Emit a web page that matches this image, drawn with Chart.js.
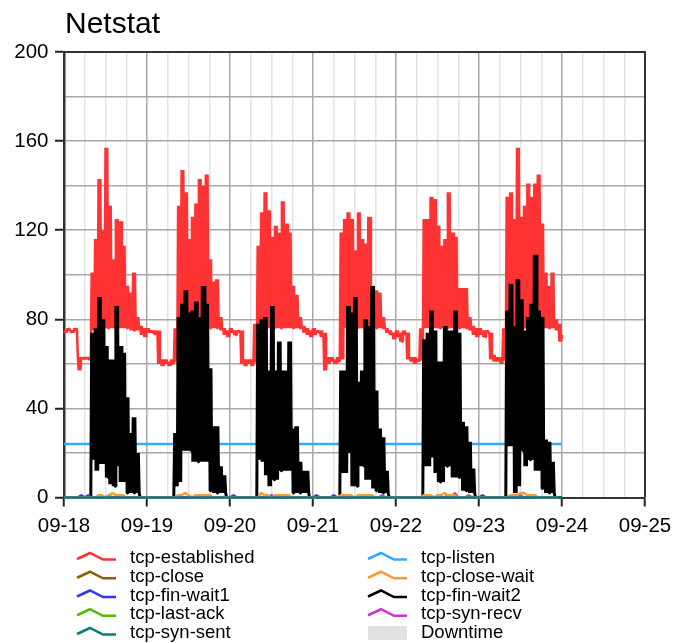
<!DOCTYPE html>
<html>
<head>
<meta charset="utf-8">
<title>Netstat</title>
<script src="https://cdn.jsdelivr.net/npm/chart.js@4.4.1/dist/chart.umd.min.js"></script>
<style>
  body { margin: 0; background: #fff; }
  canvas { display: block; }
</style>
</head>
<body>
<canvas id="netstat" width="675" height="643"></canvas>
<script>
// x axis is in hours from 09-18 00:00, one label per day
const xLabels = ['09-18', '09-19', '09-20', '09-21', '09-22', '09-23', '09-24', '09-25'];
const yLabels = [0, 40, 80, 120, 160, 200];

// tcp-established, hourly high / low readings (the series swings between them)
const estHi = [
    75, 76, 75, 76, 63, 63, 63, 63, 101, 116, 143, 120, 157, 131, 107, 125, 124, 113, 95, 92, 101, 81, 77, 76,
    76, 75, 75, 75, 62, 62, 61, 62, 76, 131, 147, 137, 116, 126, 132, 143, 140, 145, 107, 97, 98, 81, 76, 75,
    76, 75, 75, 75, 62, 62, 62, 78, 113, 128, 137, 129, 117, 122, 119, 133, 123, 119, 95, 91, 81, 77, 76, 75,
    76, 75, 75, 74, 63, 63, 62, 63, 119, 125, 128, 125, 111, 128, 116, 114, 126, 95, 93, 92, 81, 76, 75, 74,
    75, 74, 75, 74, 63, 63, 62, 76, 125, 125, 135, 134, 122, 113, 116, 137, 119, 117, 94, 94, 94, 81, 77, 76,
    76, 75, 75, 74, 64, 63, 63, 76, 135, 137, 125, 157, 126, 131, 141, 135, 141, 145, 123, 101, 95, 101, 80, 78
];
const estLo = [
    74, 75, 74, 75, 57, 62, 62, 62, 75, 76, 76, 76, 76, 76, 76, 76, 76, 76, 76, 75, 75, 75, 73, 72,
    74, 74, 73, 60, 59, 60, 59, 60, 61, 76, 76, 76, 76, 76, 76, 76, 76, 76, 76, 76, 76, 75, 73, 72,
    74, 73, 74, 60, 59, 60, 59, 61, 76, 76, 76, 76, 76, 76, 76, 76, 76, 76, 76, 76, 76, 74, 73, 72,
    73, 74, 72, 57, 60, 61, 60, 61, 62, 76, 76, 76, 76, 76, 76, 76, 76, 76, 76, 76, 76, 74, 73, 71,
    72, 70, 73, 62, 61, 60, 61, 62, 76, 76, 76, 76, 76, 76, 76, 76, 76, 76, 76, 76, 76, 75, 73, 72,
    73, 72, 74, 62, 61, 61, 60, 62, 76, 76, 76, 76, 76, 76, 76, 76, 76, 76, 76, 76, 76, 76, 75, 70
];
const estEnd = 73;

// tcp-fin-wait2, hourly high / low readings
const fw2Hi = [
    0, 0, 0, 0, 0, 0, 0, 0, 74, 76, 90, 80, 68, 62, 62, 86, 68, 65, 45, 29, 36, 20, 0, 0,
    0, 0, 0, 0, 0, 0, 0, 0, 29, 81, 87, 93, 83, 84, 88, 81, 95, 87, 58, 32, 32, 14, 10, 0,
    0, 0, 0, 0, 0, 0, 0, 0, 78, 80, 81, 57, 86, 57, 70, 57, 57, 70, 31, 32, 16, 12, 12, 0,
    0, 0, 0, 0, 0, 0, 0, 0, 57, 57, 86, 83, 90, 52, 57, 80, 77, 95, 48, 31, 27, 12, 0, 0,
    0, 0, 0, 0, 0, 0, 0, 0, 71, 74, 84, 75, 61, 61, 77, 75, 75, 84, 74, 34, 32, 25, 13, 0,
    0, 0, 0, 0, 0, 0, 0, 0, 84, 96, 77, 98, 89, 75, 81, 87, 109, 84, 81, 26, 25, 16, 0, 0
];
const fw2Lo = [
    0, 0, 0, 0, 0, 0, 0, 0, 17, 12, 15, 15, 9, 6, 5, 14, 7, 7, 2, 2, 2, 2, 0, 0,
    0, 0, 0, 0, 0, 0, 0, 0, 5, 7, 21, 21, 21, 16, 16, 16, 16, 16, 3, 2, 2, 2, 2, 0,
    0, 0, 0, 0, 0, 0, 0, 0, 17, 16, 10, 5, 8, 8, 12, 12, 12, 12, 2, 2, 2, 2, 2, 0,
    0, 0, 0, 0, 0, 0, 0, 0, 11, 11, 20, 5, 5, 14, 14, 8, 8, 4, 3, 2, 2, 2, 0, 0,
    0, 0, 0, 0, 0, 0, 0, 0, 14, 14, 18, 11, 7, 7, 14, 14, 9, 9, 9, 3, 3, 2, 2, 0,
    0, 0, 0, 0, 0, 0, 0, 0, 23, 23, 2, 5, 21, 14, 17, 17, 12, 12, 4, 2, 2, 2, 0, 0
];

// small hourly series near zero
const closeWait = [
    0, 0, 0, 0, 0, 0, 0, 0, 0, 0, 1, 1, 0, 1, 2, 1, 1, 1, 0, 0, 0, 0, 0, 0,
    0, 0, 0, 0, 0, 0, 0, 0, 0, 1, 1, 2, 1, 0, 1, 1, 1, 1, 1, 0, 0, 0, 0, 0,
    0, 0, 0, 0, 0, 0, 0, 0, 0, 2, 1, 1, 0, 1, 1, 1, 1, 1, 0, 0, 0, 0, 0, 0,
    0, 0, 0, 0, 0, 0, 0, 0, 1, 1, 1, 1, 0, 1, 1, 1, 1, 1, 0, 0, 0, 0, 0, 0,
    0, 0, 0, 0, 0, 0, 0, 0, 1, 1, 1, 0, 1, 1, 2, 1, 1, 1, 0, 0, 0, 0, 0, 0,
    0, 0, 0, 0, 0, 0, 0, 0, 0, 1, 1, 1, 2, 2, 1, 1, 1, 0, 0, 0, 0, 0, 0, 0
];
const finWait1 = [
    0, 0, 0, 0, 0, 1, 0, 1, 0, 0, 0, 0, 0, 0, 0, 0, 0, 0, 0, 0, 0, 0, 0, 0,
    0, 0, 0, 0, 0, 0, 0, 0, 0, 0, 0, 0, 0, 0, 0, 0, 0, 0, 1, 0, 0, 0, 0, 0,
    0, 1, 0, 0, 0, 0, 0, 0, 0, 0, 0, 0, 1, 0, 1, 0, 0, 0, 0, 0, 0, 0, 0, 0,
    0, 1, 0, 0, 0, 0, 1, 0, 0, 0, 0, 0, 0, 0, 0, 0, 1, 0, 0, 0, 0, 0, 0, 0,
    0, 0, 0, 0, 0, 0, 0, 0, 0, 0, 0, 0, 0, 0, 0, 1, 0, 0, 0, 0, 0, 0, 0, 0,
    0, 1, 0, 0, 0, 0, 0, 0, 0, 0, 0, 0, 0, 0, 0, 1, 0, 0, 0, 0, 0, 0, 0, 0
];
const synRecv = [
    0, 0, 0, 0, 0, 0, 0, 0, 0, 0, 0, 0, 0, 1, 0, 0, 0, 0, 0, 0, 0, 0, 0, 0,
    0, 0, 0, 0, 0, 0, 0, 0, 0, 0, 0, 0, 0, 0, 0, 0, 0, 0, 0, 0, 0, 0, 0, 0,
    0, 0, 0, 0, 0, 0, 0, 0, 0, 0, 0, 0, 0, 0, 0, 0, 0, 0, 0, 0, 0, 0, 0, 0,
    0, 0, 0, 0, 0, 0, 0, 0, 0, 0, 0, 0, 0, 0, 0, 0, 1, 0, 0, 0, 1, 0, 0, 0,
    0, 0, 0, 0, 0, 0, 0, 0, 0, 0, 0, 0, 0, 0, 0, 0, 0, 2, 0, 0, 0, 1, 0, 0,
    0, 0, 0, 0, 0, 0, 0, 0, 0, 0, 0, 0, 1, 0, 0, 0, 1, 0, 0, 0, 0, 0, 0, 0
];

// flat series, one reading per day (09-18 .. 09-24)
const listen = [24, 24, 24, 24, 24, 24, 24];
const synSent = [0, 0, 0, 0, 0, 0, 0];
const closeSt = [0, 0, 0, 0, 0, 0, 0];
const lastAck = [0, 0, 0, 0, 0, 0, 0];

function daily(values) {
    return values.map((y, i) => ({x: i * 24, y: y}));
}

function hourly(values) {
    return values.map((y, h) => ({x: h, y: y}));
}

// swing between the high and low reading of each hour
function swing(hi, lo, last) {
    const pts = [];
    for (let h = 0; h < hi.length; h++) {
        pts.push({x: h, y: hi[h]}, {x: h + 0.25, y: lo[h]});
        pts.push({x: h + 0.5, y: hi[h]}, {x: h + 0.75, y: lo[h]});
    }
    pts.push({x: hi.length, y: last});
    return pts;
}

const FONT = '"Liberation Sans", Arial, sans-serif';

const muninPlugin = {
    id: 'munin',
    afterDraw(chart) {
        const ctx = chart.ctx;
        const a = chart.chartArea;
        ctx.save();
        // frame top and right
        ctx.strokeStyle = '#333';
        ctx.lineWidth = 2;
        ctx.beginPath();
        ctx.moveTo(a.left, a.top);
        ctx.lineTo(a.right, a.top);
        ctx.lineTo(a.right, a.bottom);
        ctx.stroke();

        ctx.fillStyle = '#000';
        ctx.font = '30px ' + FONT;
        ctx.textBaseline = 'alphabetic';
        ctx.fillText('Netstat', a.left + 1, 33);

        ctx.font = '18.5px ' + FONT;
        ctx.textBaseline = 'middle';
        chart.data.datasets.forEach((ds, i) => {
            const x = 77 + Math.floor(i / 5) * 291;
            const y = 558 + (i % 5) * 18.75;
            if (ds.legendBox) {
                ctx.fillStyle = ds.backgroundColor;
                ctx.fillRect(x, y - 7, 39, 14);
            } else {
                ctx.strokeStyle = ds.borderColor;
                ctx.lineWidth = 2.5;
                ctx.lineJoin = 'miter';
                ctx.beginPath();
                ctx.moveTo(x, y + 1);
                ctx.lineTo(x + 13, y - 5);
                ctx.lineTo(x + 26, y + 1.5);
                ctx.lineTo(x + 39, y + 1.5);
                ctx.stroke();
            }
            ctx.fillStyle = '#000';
            ctx.fillText(ds.label, x + 53, y);
        });
        ctx.restore();
    }
};

function setupChart() {
    const ctx = document.getElementById('netstat');

    const config = {
        type: 'line',
        data: {
            datasets: [{
                label: 'tcp-established',
                data: swing(estHi, estLo, estEnd),
                borderColor: '#ff3333',
                order: 9
            }, {
                label: 'tcp-close',
                data: daily(closeSt),
                borderColor: '#8c5f00',
                order: 8
            }, {
                label: 'tcp-fin-wait1',
                data: hourly(finWait1),
                borderColor: '#3333ff',
                order: 4
            }, {
                label: 'tcp-last-ack',
                data: daily(lastAck),
                borderColor: '#55bb00',
                order: 7
            }, {
                label: 'tcp-syn-sent',
                data: daily(synSent),
                borderColor: '#007f7f',
                order: 1
            }, {
                label: 'tcp-listen',
                data: daily(listen),
                borderColor: '#33aaff',
                order: 6
            }, {
                label: 'tcp-close-wait',
                data: hourly(closeWait),
                borderColor: '#ff9933',
                order: 2
            }, {
                label: 'tcp-fin-wait2',
                data: swing(fw2Hi, fw2Lo, 0),
                borderColor: '#000000',
                borderWidth: 3,
                order: 5
            }, {
                label: 'tcp-syn-recv',
                data: hourly(synRecv),
                borderColor: '#cc33cc',
                order: 3
            }, {
                label: 'Downtime',
                data: [],
                backgroundColor: '#e2e2e2',
                borderColor: '#e2e2e2',
                legendBox: true,
                order: 10
            }]
        },
        options: {
            responsive: false,
            devicePixelRatio: 1,
            animation: false,
            events: [],
            clip: false,
            layout: {
                autoPadding: false,
                padding: {left: 0, top: 52, right: 30, bottom: 105.5}
            },
            elements: {
                point: {radius: 0},
                line: {borderWidth: 2.5, tension: 0, borderJoinStyle: 'bevel', fill: false}
            },
            plugins: {
                legend: {display: false},
                title: {display: false},
                tooltip: {enabled: false}
            },
            scales: {
                x: {
                    type: 'linear',
                    min: 0,
                    max: 168,
                    afterFit: (scale) => {
                        scale.height = 40;
                        scale.paddingLeft = 0;
                        scale.paddingRight = 0;
                    },
                    ticks: {
                        stepSize: 6,
                        autoSkip: false,
                        maxRotation: 0,
                        minRotation: 0,
                        padding: 8,
                        color: '#000',
                        font: {family: FONT, size: 20.5},
                        callback: (v) => (v % 24 === 0 ? xLabels[v / 24] : '')
                    },
                    grid: {
                        lineWidth: 1.5,
                        color: (c) => (c.tick && c.tick.value % 24 === 0 ? '#a8a8a8' : '#e4e4e4'),
                        tickColor: (c) => (c.tick && c.tick.value % 24 === 0 ? '#222' : 'rgba(0,0,0,0)'),
                        tickLength: 9,
                        tickWidth: 2
                    },
                    border: {color: '#333', width: 2}
                },
                y: {
                    min: 0,
                    max: 200,
                    afterFit: (scale) => {
                        scale.width = 64;
                        scale.paddingTop = 0;
                        scale.paddingBottom = 0;
                    },
                    ticks: {
                        stepSize: 20,
                        autoSkip: false,
                        padding: 6.5,
                        color: '#000',
                        font: {family: FONT, size: 20.5},
                        callback: (v) => (yLabels.includes(v) ? String(v) : '')
                    },
                    grid: {
                        lineWidth: 1.5,
                        color: '#a8a8a8',
                        tickColor: (c) => (c.tick && yLabels.includes(c.tick.value) ? '#222' : 'rgba(0,0,0,0)'),
                        tickLength: 9,
                        tickWidth: 2
                    },
                    border: {color: '#333', width: 2.5}
                }
            }
        },
        plugins: [muninPlugin]
    };

    return new Chart(ctx, config);
}

window.addEventListener('DOMContentLoaded', () => {
    setupChart();
});
</script>
</body>
</html>
